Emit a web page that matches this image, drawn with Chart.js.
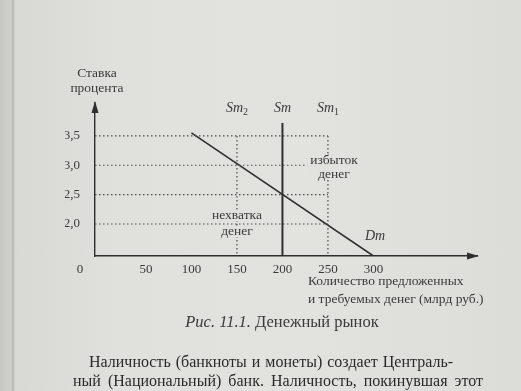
<!DOCTYPE html>
<html lang="ru">
<head>
<meta charset="utf-8">
<title>Денежный рынок</title>
<script src="https://cdn.jsdelivr.net/npm/chart.js@4.4.1/dist/chart.umd.min.js"></script>
<style>
  html, body { margin: 0; padding: 0; }
  body {
    width: 521px; height: 391px; overflow: hidden; position: relative;
    background: linear-gradient(90deg, #c6c6c2 0, #cfcfcb 11px, #b4b4b0 13px, #d8d8d5 15px, #e0e0dd 120px, #e2e2df 300px, #dcdcd9 521px);
    font-family: "Liberation Serif", "DejaVu Serif", serif;
    color: #3a3a3a;
  }
  #chart { position: absolute; left: 0; top: 0; }
  .t { position: absolute; white-space: nowrap; line-height: 1; }
  .ytitle { left: 47px; width: 100px; text-align: center; font-size: 13.5px; }
  .xtitle { left: 308px; font-size: 13.5px; }
  .caption { left: 132px; width: 300px; text-align: center; font-size: 16.5px; top: 314px; }
  .para { font-size: 16px; color: #2a2a2a; text-align: justify; text-align-last: justify; }
</style>
</head>
<body>
<canvas id="chart" width="521" height="391"></canvas>

<div class="t ytitle" style="top:66px">Ставка</div>
<div class="t ytitle" style="top:81px">процента</div>
<div class="t xtitle" style="top:274px">Количество предложенных</div>
<div class="t xtitle" style="top:292px">и требуемых денег (млрд руб.)</div>
<div class="t caption"><i>Рис. 11.1.</i> Денежный рынок</div>
<div class="t para" style="left:89px; width:364px; top:354px">Наличность (банкноты и монеты) создает Централь-</div>
<div class="t para" style="left:73px; width:410px; top:373px">ный (Национальный) банк. Наличность, покинувшая этот</div>
<div class="t para" style="left:73px; width:410px; top:392px">банк и поступившая в экономику, распределяется в даль-</div>

<script>
// axis values
const quantityTicks = [50, 100, 150, 200, 250, 300];
const rateTicks = [2.0, 2.5, 3.0, 3.5];

// money supply lines: Sm2, Sm, Sm1
const supplyNames = ["Sm", "Sm", "Sm"];
const supplySubs = ["2", "", "1"];
const supplyLevels = [150, 200, 250];
const supplyTop = 3.72;

// money demand line Dm
const demandQty = [100, 300];
const demandRate = [3.55, 1.455];

// dotted guides
const guideRates = [2.0, 2.5, 3.0, 3.5];
const guideRight = 250;
const guideTop = 3.5;

const X_MIN = -6, X_MAX = 413.8;
const Y_MIN = 1.455, Y_MAX = 4.06;

const ink = "#2f2f2f";
const soft = "#4a4a4a";
const paper = "#e1e1de";
const serif = "'Liberation Serif', 'DejaVu Serif', serif";

const datasets = [];

guideRates.forEach((r) => {
  datasets.push({
    data: [{ x: X_MIN, y: r }, { x: guideRight, y: r }],
    borderColor: soft, borderWidth: 1.2, borderDash: [1.5, 2.5],
  });
});

supplyLevels.forEach((q, i) => {
  const solid = supplySubs[i] === "";
  datasets.push({
    data: [{ x: q, y: solid ? supplyTop : guideTop }, { x: q, y: Y_MIN }],
    borderColor: solid ? ink : soft,
    borderWidth: solid ? 2 : 1.2,
    borderDash: solid ? [] : [1.5, 2.5],
  });
});

datasets.push({
  data: demandQty.map((q, i) => ({ x: q, y: demandRate[i] })),
  borderColor: ink, borderWidth: 1.6,
});

datasets.forEach((d) => {
  d.showLine = true;
  d.pointRadius = 0;
  d.fill = false;
});

// text with a paper-coloured knockout behind it, like the printed figure
function label(ctx, text, x, y, pad) {
  const w = ctx.measureText(text).width;
  ctx.fillStyle = paper;
  ctx.fillRect(x - w / 2 - pad, y - 9, w + pad * 2, 11);
  ctx.fillStyle = "#3a3a3a";
  ctx.fillText(text, x, y);
}

const annotations = {
  id: "annotations",
  afterDatasetsDraw(chart) {
    const { ctx, chartArea } = chart;
    const xs = chart.scales.x;
    ctx.save();
    ctx.fillStyle = ink;

    // arrow heads on both axes
    ctx.beginPath();
    ctx.moveTo(chartArea.left, chartArea.top - 2);
    ctx.lineTo(chartArea.left - 3.5, chartArea.top + 10);
    ctx.lineTo(chartArea.left + 3.5, chartArea.top + 10);
    ctx.closePath();
    ctx.fill();
    ctx.beginPath();
    ctx.moveTo(chartArea.right + 2, chartArea.bottom);
    ctx.lineTo(chartArea.right - 10, chartArea.bottom - 3.5);
    ctx.lineTo(chartArea.right - 10, chartArea.bottom + 3.5);
    ctx.closePath();
    ctx.fill();

    ctx.fillStyle = "#3a3a3a";
    ctx.textBaseline = "alphabetic";

    // Sm labels
    supplyLevels.forEach((q, i) => {
      ctx.font = "italic 14px " + serif;
      const w1 = ctx.measureText(supplyNames[i]).width;
      ctx.font = "10px " + serif;
      const w2 = ctx.measureText(supplySubs[i]).width;
      const x0 = xs.getPixelForValue(q) - (w1 + w2) / 2;
      ctx.font = "italic 14px " + serif;
      ctx.textAlign = "left";
      ctx.fillText(supplyNames[i], x0, 112);
      ctx.font = "10px " + serif;
      ctx.fillText(supplySubs[i], x0 + w1, 115);
    });

    ctx.font = "italic 14px " + serif;
    ctx.textAlign = "left";
    ctx.fillText("Dm", 365, 240);

    ctx.font = "13.5px " + serif;
    ctx.textAlign = "center";
    const cx1 = xs.getPixelForValue(guideRight) + 6;
    // one block covering both words
    const w = ctx.measureText("избыток").width;
    ctx.fillStyle = paper;
    ctx.fillRect(cx1 - w / 2 - 3, 154, w + 6, 25);
    ctx.fillStyle = "#3a3a3a";
    ctx.fillText("избыток", cx1, 164);
    ctx.fillText("денег", cx1, 178);

    const cx2 = xs.getPixelForValue(supplyLevels[0]);
    label(ctx, "нехватка", cx2, 219, 2);
    label(ctx, "денег", cx2, 235, 2);

    ctx.font = "13px " + serif;
    ctx.fillText("0", 80, 273);
    ctx.restore();
  },
};

new Chart(document.getElementById("chart"), {
  type: "scatter",
  data: { datasets },
  options: {
    responsive: false,
    animation: false,
    events: [],
    layout: { padding: { left: 65, top: 103, right: 44, bottom: 115 } },
    plugins: { legend: { display: false }, tooltip: { enabled: false } },
    scales: {
      x: {
        type: "linear", min: X_MIN, max: X_MAX,
        afterFit: (s) => { s.height = 20; },
        afterBuildTicks: (s) => { s.ticks = quantityTicks.map((v) => ({ value: v })); },
        grid: { display: false, drawTicks: false },
        border: { display: true, color: ink, width: 1.4 },
        ticks: { color: "#3a3a3a", padding: 6, maxRotation: 0, autoSkip: false,
                 font: { family: serif, size: 13 } },
      },
      y: {
        type: "linear", min: Y_MIN, max: Y_MAX,
        afterFit: (s) => { s.width = 30; },
        afterBuildTicks: (s) => { s.ticks = rateTicks.map((v) => ({ value: v })); },
        grid: { display: false, drawTicks: false },
        border: { display: true, color: ink, width: 1.4 },
        ticks: { color: "#3a3a3a", padding: 15, autoSkip: false,
                 font: { family: serif, size: 13 },
                 callback: (v) => v.toFixed(1).replace(".", ",") },
      },
    },
  },
  plugins: [annotations],
});
</script>
</body>
</html>
